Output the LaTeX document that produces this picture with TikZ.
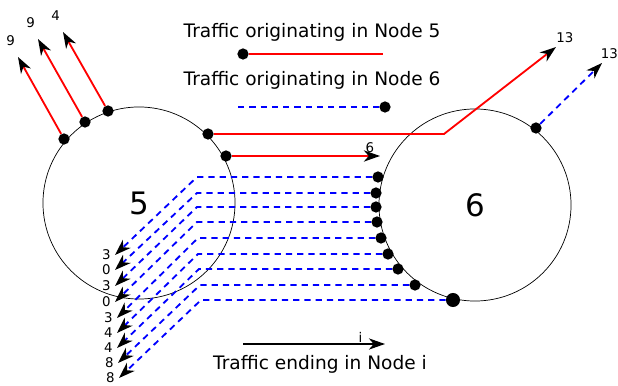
\documentclass[tikz,border=0pt]{standalone}
\usepackage{fontspec}
\setmainfont{DejaVu Sans}
\usetikzlibrary{positioning}
\usetikzlibrary{arrows.meta}
\tikzset{
  tip/.style={-{Stealth[black,length=11.5pt,width=8pt,inset=3.5pt]}},
  orig5/.style={red, line width=1.3pt},
  orig6/.style={blue, line width=1.3pt, dash pattern=on 4.5pt off 3.5pt},
  dot/.style={circle, fill=black, inner sep=0pt, minimum size=8pt},
  lbl/.style={font=\fontsize{9.5}{10}\selectfont, inner sep=0pt},
  txt/.style={font=\fontsize{13.2}{15}\selectfont},
  router/.style={circle, draw, line width=0.5pt, minimum size=4.8cm, font=\fontsize{22}{24}\selectfont}
}
\begin{document}
\begin{tikzpicture}[x=0.025cm, y=-0.025cm]
\useasboundingbox (0,0) rectangle (618,386);
\node[router] (n5) at (139,203) {5};
\node[router] (n6) at (475,205) {6};
%legend
\node[txt] (leg5) at (312,32) {Traffic originating in Node 5};
\node[dot] (l5) at (243,54) {};
\coordinate (l5e) at (383,54);
\draw[orig5] (l5) -- (l5e);
\node[txt] (leg6) at (312,80) {Traffic originating in Node 6};
\coordinate (l6s) at (238,107);
\node[dot] (l6) at (385,107) {};
\draw[orig6] (l6s) -- (l6);
\coordinate (li) at (243,344);
\coordinate (lie) at (385,344);
\draw[line width=0.8pt, tip] (li) -- (lie);
\node[lbl, above left=1pt and 16pt of lie] (lil) {i};
\node[txt] (legi) at (320,364) {Traffic ending in Node i};
%from node 5
\foreach \n/\sx/\sy/\tx/\ty/\lab in {1/64/139/18/57/9, 2/85/122/38/39/9, 3/108/111/63/32/4} {
  \node[dot] (s\n) at (\sx,\sy) {};
  \coordinate (t\n) at (\tx,\ty);
  \draw[orig5, tip] (s\n) -- (t\n);
  \node[lbl, above left=8pt and 2pt of t\n] {\lab};
}
\node[dot] (s4) at (208,134) {};
\coordinate (k4) at (444,134);
\coordinate (t4) at (556,47);
\draw[orig5, tip] (s4) -- (k4) -- (t4);
\node[lbl, above right=3pt and 0pt of t4] {13};
\node[dot] (s5) at (226,156) {};
\coordinate (t5) at (380,156);
\draw[orig5, tip] (s5) -- (t5);
\node[lbl, above left=2pt and 4pt of t5] {6};
%from node 6
\node[dot] (s6) at (536,128) {};
\coordinate (t6) at (602,63);
\draw[orig6, tip] (s6) -- (t6);
\node[lbl, above right=3pt and -1pt of t6] {13};
\foreach \n/\y/\xr/\xk/\xt/\yt/\lab/\sz in {1/177/378/197/115/255/3/8, 2/193/376/197/115/270/0/8,
  3/207/376/197/115/286/3/8, 4/222/377/197/115/302/0/8, 5/238/381/198/117/318/3/8,
  6/254/388/198/117/333/4/8, 7/269/398/199/117/348/4/8, 8/285/415/200/118/363/8/8,
  9/300/453/201/119/378/8/10} {
  \node[dot, minimum size=\sz pt] (b\n) at (\xr,\y) {};
  \coordinate (k\n) at (\xk,\y);
  \coordinate (e\n) at (\xt,\yt);
  \draw[orig6, tip] (b\n) -- (k\n) -- (e\n);
  \node[lbl, left=3pt of e\n] {\lab};
}
\end{tikzpicture}
\end{document}
